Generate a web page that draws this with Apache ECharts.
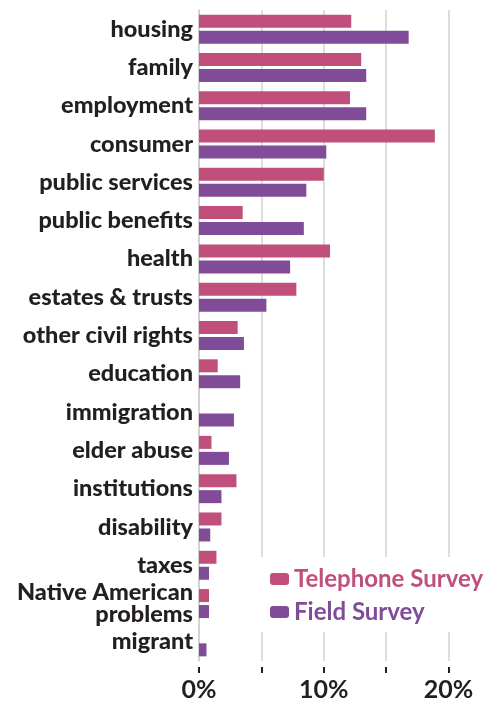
<!DOCTYPE html>
<html>
<head>
<meta charset="utf-8">
<script src="https://cdn.jsdelivr.net/npm/echarts@6/dist/echarts.min.js"></script>
<style>html,body{margin:0;padding:0;background:#fff}#c{width:485px;height:703px}</style>
</head>
<body>
<div id="c"></div>
<script>
const categories = ['housing','family','employment','consumer','public services','public benefits','health','estates & trusts','other civil rights','education','immigration','elder abuse','institutions','disability','taxes','Native American\nproblems','migrant'];
const telephoneSurvey = [12.2, 13.0, 12.1, 18.9, 10.0, 3.5, 10.5, 7.8, 3.1, 1.5, 0, 1.0, 3.0, 1.8, 1.4, 0.8, 0];
const fieldSurvey = [16.8, 13.4, 13.4, 10.2, 8.6, 8.4, 7.3, 5.4, 3.6, 3.3, 2.8, 2.4, 1.8, 0.9, 0.8, 0.8, 0.6];
const xTicks = [0, 5, 10, 15, 20, 25];
const shownTickLabels = [0, 10, 20];

const PINK = '#c04f7b';
const PURPLE = '#804c98';
const FONT = 'Lato';

const chart = echarts.init(document.getElementById('c'), null, {renderer: 'canvas'});
chart.setOption({
  animation: false,
  textStyle: {fontFamily: FONT},
  grid: {left: 199, width: 312, top: 10, bottom: 42, containLabel: false, outerBoundsMode: 'none'},
  legend: {
    orient: 'vertical',
    left: 260, top: 557,
    padding: [10, 30, 8, 10],
    backgroundColor: '#fff',
    itemWidth: 19, itemHeight: 12, itemGap: 9,
    data: [
      {name: 'Telephone Survey', textStyle: {color: PINK}},
      {name: 'Field Survey', textStyle: {color: PURPLE}}
    ],
    textStyle: {fontFamily: FONT, fontWeight: 'bold', fontSize: 24}
  },
  xAxis: {
    type: 'value', min: xTicks[0], max: xTicks[xTicks.length - 1], interval: 5,
    offset: 6,
    axisLine: {show: false},
    axisTick: {show: true, length: 6, lineStyle: {color: '#231f20', width: 2}},
    splitLine: {show: true, lineStyle: {color: '#d2d2d2', width: 1.5}},
    axisLabel: {
      margin: 10, color: '#231f20', fontSize: 25, fontWeight: 'bold', fontFamily: FONT,
      formatter: v => shownTickLabels.includes(v) ? v + '%' : ''
    }
  },
  yAxis: {
    type: 'category', data: categories, inverse: true,
    axisLine: {show: true, lineStyle: {color: '#cfcfcf', width: 1.5}},
    axisTick: {show: false},
    axisLabel: {margin: 6, color: '#231f20', fontSize: 23.5, fontWeight: 900, fontFamily: FONT, lineHeight: 22}
  },
  series: [
    {name: 'Telephone Survey', type: 'bar', data: telephoneSurvey, barWidth: 13, barGap: '23%', itemStyle: {color: PINK}},
    {name: 'Field Survey', type: 'bar', data: fieldSurvey, barWidth: 13, barGap: '23%', itemStyle: {color: PURPLE}}
  ]
});
</script>
</body>
</html>
